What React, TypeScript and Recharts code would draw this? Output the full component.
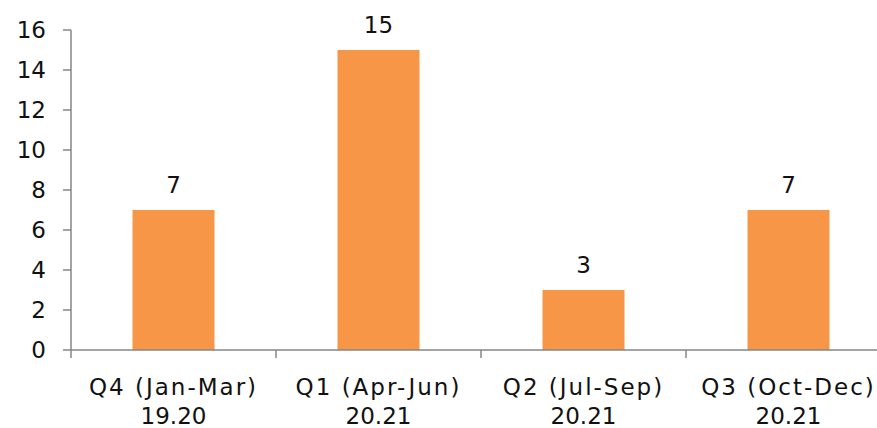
import React from "react";
import { BarChart, Bar, XAxis, YAxis, LabelList } from "recharts";

const quarters = ["Q4 (Jan-Mar)", "Q1 (Apr-Jun)", "Q2 (Jul-Sep)", "Q3 (Oct-Dec)"];
const years = ["19.20", "20.21", "20.21", "20.21"];
const counts = [7, 15, 3, 7];
const yTicks = [0, 2, 4, 6, 8, 10, 12, 14, 16];

const data = quarters.map((q, i) => ({ name: q, year: years[i], value: counts[i] }));

const FONT = "'DejaVu Sans', sans-serif";
const AXIS = "#868686";
const TEXT = "#111";

type TickProps = {
  x?: number;
  y?: number;
  index?: number;
  payload?: { value: string; offset?: number; coordinate?: number };
};

const CategoryTick = (props: TickProps) => {
  const { x = 0, index = 0, payload } = props;
  const half = payload?.offset ?? 102.5;
  const axisY = 350;
  const yr = data.find((d) => d.name === payload?.value)?.year ?? "";
  return (
    <g>
      <line x1={x - half} x2={x - half} y1={axisY} y2={axisY + 8} stroke={AXIS} strokeWidth={1.5} />
      {index === data.length - 1 && (
        <line x1={x + half} x2={x + half} y1={axisY} y2={axisY + 8} stroke={AXIS} strokeWidth={1.5} />
      )}
      <text x={x} y={axisY} textAnchor="middle" fontSize={23} fontFamily={FONT} fill={TEXT}>
        <tspan x={x} dy={45} letterSpacing={2}>{payload?.value}</tspan>
        <tspan x={x} dy={29}>{yr}</tspan>
      </text>
    </g>
  );
};

export default function App() {
  return (
    <div style={{ position: "absolute", left: 0, top: 0, width: 877, height: 428, overflow: "hidden", background: "#fff" }}>
      <BarChart
        width={900}
        height={428}
        data={data}
        margin={{ top: 30, right: 9, left: 0, bottom: 0 }}
        barCategoryGap="30%"
      >
        <XAxis
          dataKey="name"
          height={78}
          tickLine={false}
          axisLine={{ stroke: AXIS, strokeWidth: 1.5 }}
          tick={<CategoryTick />}
          interval={0}
        />
        <YAxis
          width={71}
          domain={[0, 16]}
          ticks={yTicks}
          tickSize={8}
          tickMargin={17}
          tickLine={{ stroke: AXIS, strokeWidth: 1.5 }}
          axisLine={{ stroke: AXIS, strokeWidth: 1.5 }}
          tick={{ fontSize: 23, fontFamily: FONT, fill: TEXT }}
        />
        <Bar dataKey="value" fill="#F79646" isAnimationActive={false}>
          <LabelList
            dataKey="value"
            position="top"
            offset={17}
            style={{ fontSize: 23, fontFamily: FONT, fill: TEXT }}
          />
        </Bar>
      </BarChart>
    </div>
  );
}
